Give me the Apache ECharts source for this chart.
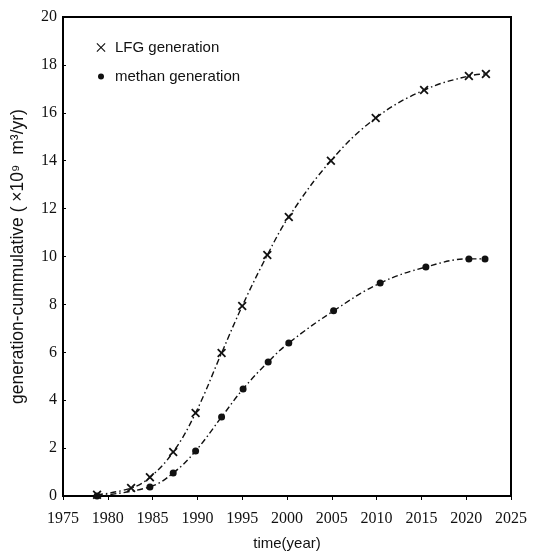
<!DOCTYPE html>
<html>
<head>
<meta charset="utf-8">
<script src="https://cdn.jsdelivr.net/npm/echarts@6/dist/echarts.min.js"></script>
<style>
  html, body { margin: 0; padding: 0; background: #fff; }
  #main { width: 540px; height: 554px; }
</style>
</head>
<body>
<div id="main"></div>
<script>
// values
var lfgYears = [1978.8, 1982.6, 1984.7, 1987.3, 1989.8, 1992.7, 1995.0, 1997.8, 2000.2, 2004.9, 2009.9, 2015.3, 2020.3, 2022.2];
var lfgValues = [0.05, 0.33, 0.78, 1.84, 3.47, 5.97, 7.93, 10.06, 11.65, 14.0, 15.78, 16.95, 17.54, 17.62];
var methanYears = [1978.8, 1984.7, 1987.3, 1989.8, 1992.7, 1995.1, 1997.9, 2000.2, 2005.2, 2010.4, 2015.5, 2020.3, 2022.1];
var methanValues = [0.0, 0.38, 0.96, 1.88, 3.3, 4.47, 5.6, 6.39, 7.73, 8.89, 9.56, 9.9, 9.9];
var xTicks = [1975, 1980, 1985, 1990, 1995, 2000, 2005, 2010, 2015, 2020, 2025];
var yTicks = [0, 2, 4, 6, 8, 10, 12, 14, 16, 18, 20];

function pairs(xs, ys) {
  var out = [];
  for (var i = 0; i < xs.length; i++) out.push([xs[i], ys[i]]);
  return out;
}

var crossPath = 'path://M0,1.4 L1.4,0 L5,3.6 L8.6,0 L10,1.4 L6.4,5 L10,8.6 L8.6,10 L5,6.4 L1.4,10 L0,8.6 L3.6,5 Z';
// legend icons padded sideways so the glyph sits in the middle of a wider box
var crossLegend = 'path://M-4,0 M14,10 M0.5,1.3 L1.3,0.5 L5,4.2 L8.7,0.5 L9.5,1.3 L5.8,5 L9.5,8.7 L8.7,9.5 L5,5.8 L1.3,9.5 L0.5,8.7 L4.2,5 Z';
var dotLegend = 'path://M-4,0 M14,10 M2,5 A3,3 0 1,0 8,5 A3,3 0 1,0 2,5 Z';
var dashDot = [6, 3, 1.5, 3];

var chart = echarts.init(document.getElementById('main'));
chart.setOption({
  animation: false,
  grid: {
    left: 63, right: 29, top: 17, bottom: 58,
    outerBoundsMode: 'none',
    containLabel: false,
    show: true, borderColor: '#000', borderWidth: 2
  },
  legend: {
    orient: 'vertical',
    left: 87, top: 35,
    itemWidth: 18, itemHeight: 10, itemGap: 14,
    textStyle: { fontFamily: 'Liberation Sans', fontSize: 15, color: '#111' },
    data: [
      { name: 'LFG generation', icon: crossLegend },
      { name: 'methan generation', icon: dotLegend }
    ]
  },
  xAxis: {
    type: 'value',
    min: xTicks[0], max: xTicks[xTicks.length - 1], interval: 5,
    name: 'time(year)',
    nameLocation: 'middle', nameGap: 40,
    nameTextStyle: { fontFamily: 'Liberation Sans', fontSize: 15, color: '#111' },
    axisLine: { lineStyle: { color: '#000', width: 2 } },
    axisTick: { show: true, length: 4, lineStyle: { color: '#000' } },
    axisLabel: {
      fontFamily: 'Liberation Serif', fontSize: 16, color: '#111', margin: 15,
      formatter: function (v) { return String(v); }
    },
    splitLine: { show: false }
  },
  yAxis: {
    type: 'value',
    min: yTicks[0], max: yTicks[yTicks.length - 1], interval: 2,
    name: 'generation-cummulative ( \u00d710\u2079  m\u00b3/yr)',
    nameLocation: 'middle', nameGap: 36,
    nameTextStyle: { fontFamily: 'Liberation Sans', fontSize: 17.5, color: '#111' },
    axisLine: { show: true, lineStyle: { color: '#000', width: 2 } },
    axisTick: { show: true, inside: true, length: 3, lineStyle: { color: '#000' } },
    axisLabel: { fontFamily: 'Liberation Serif', fontSize: 16, color: '#111', margin: 6 },
    splitLine: { show: false }
  },
  series: [
    {
      name: 'LFG generation',
      type: 'line',
      smooth: 0.4,
      data: pairs(lfgYears, lfgValues),
      symbol: crossPath,
      symbolSize: 9,
      itemStyle: { color: '#111' },
      lineStyle: { color: '#111', width: 1.4, type: dashDot }
    },
    {
      name: 'methan generation',
      type: 'line',
      smooth: 0.4,
      data: pairs(methanYears, methanValues),
      symbol: 'circle',
      symbolSize: 7,
      itemStyle: { color: '#111' },
      lineStyle: { color: '#111', width: 1.4, type: dashDot }
    }
  ]
});
</script>
</body>
</html>
